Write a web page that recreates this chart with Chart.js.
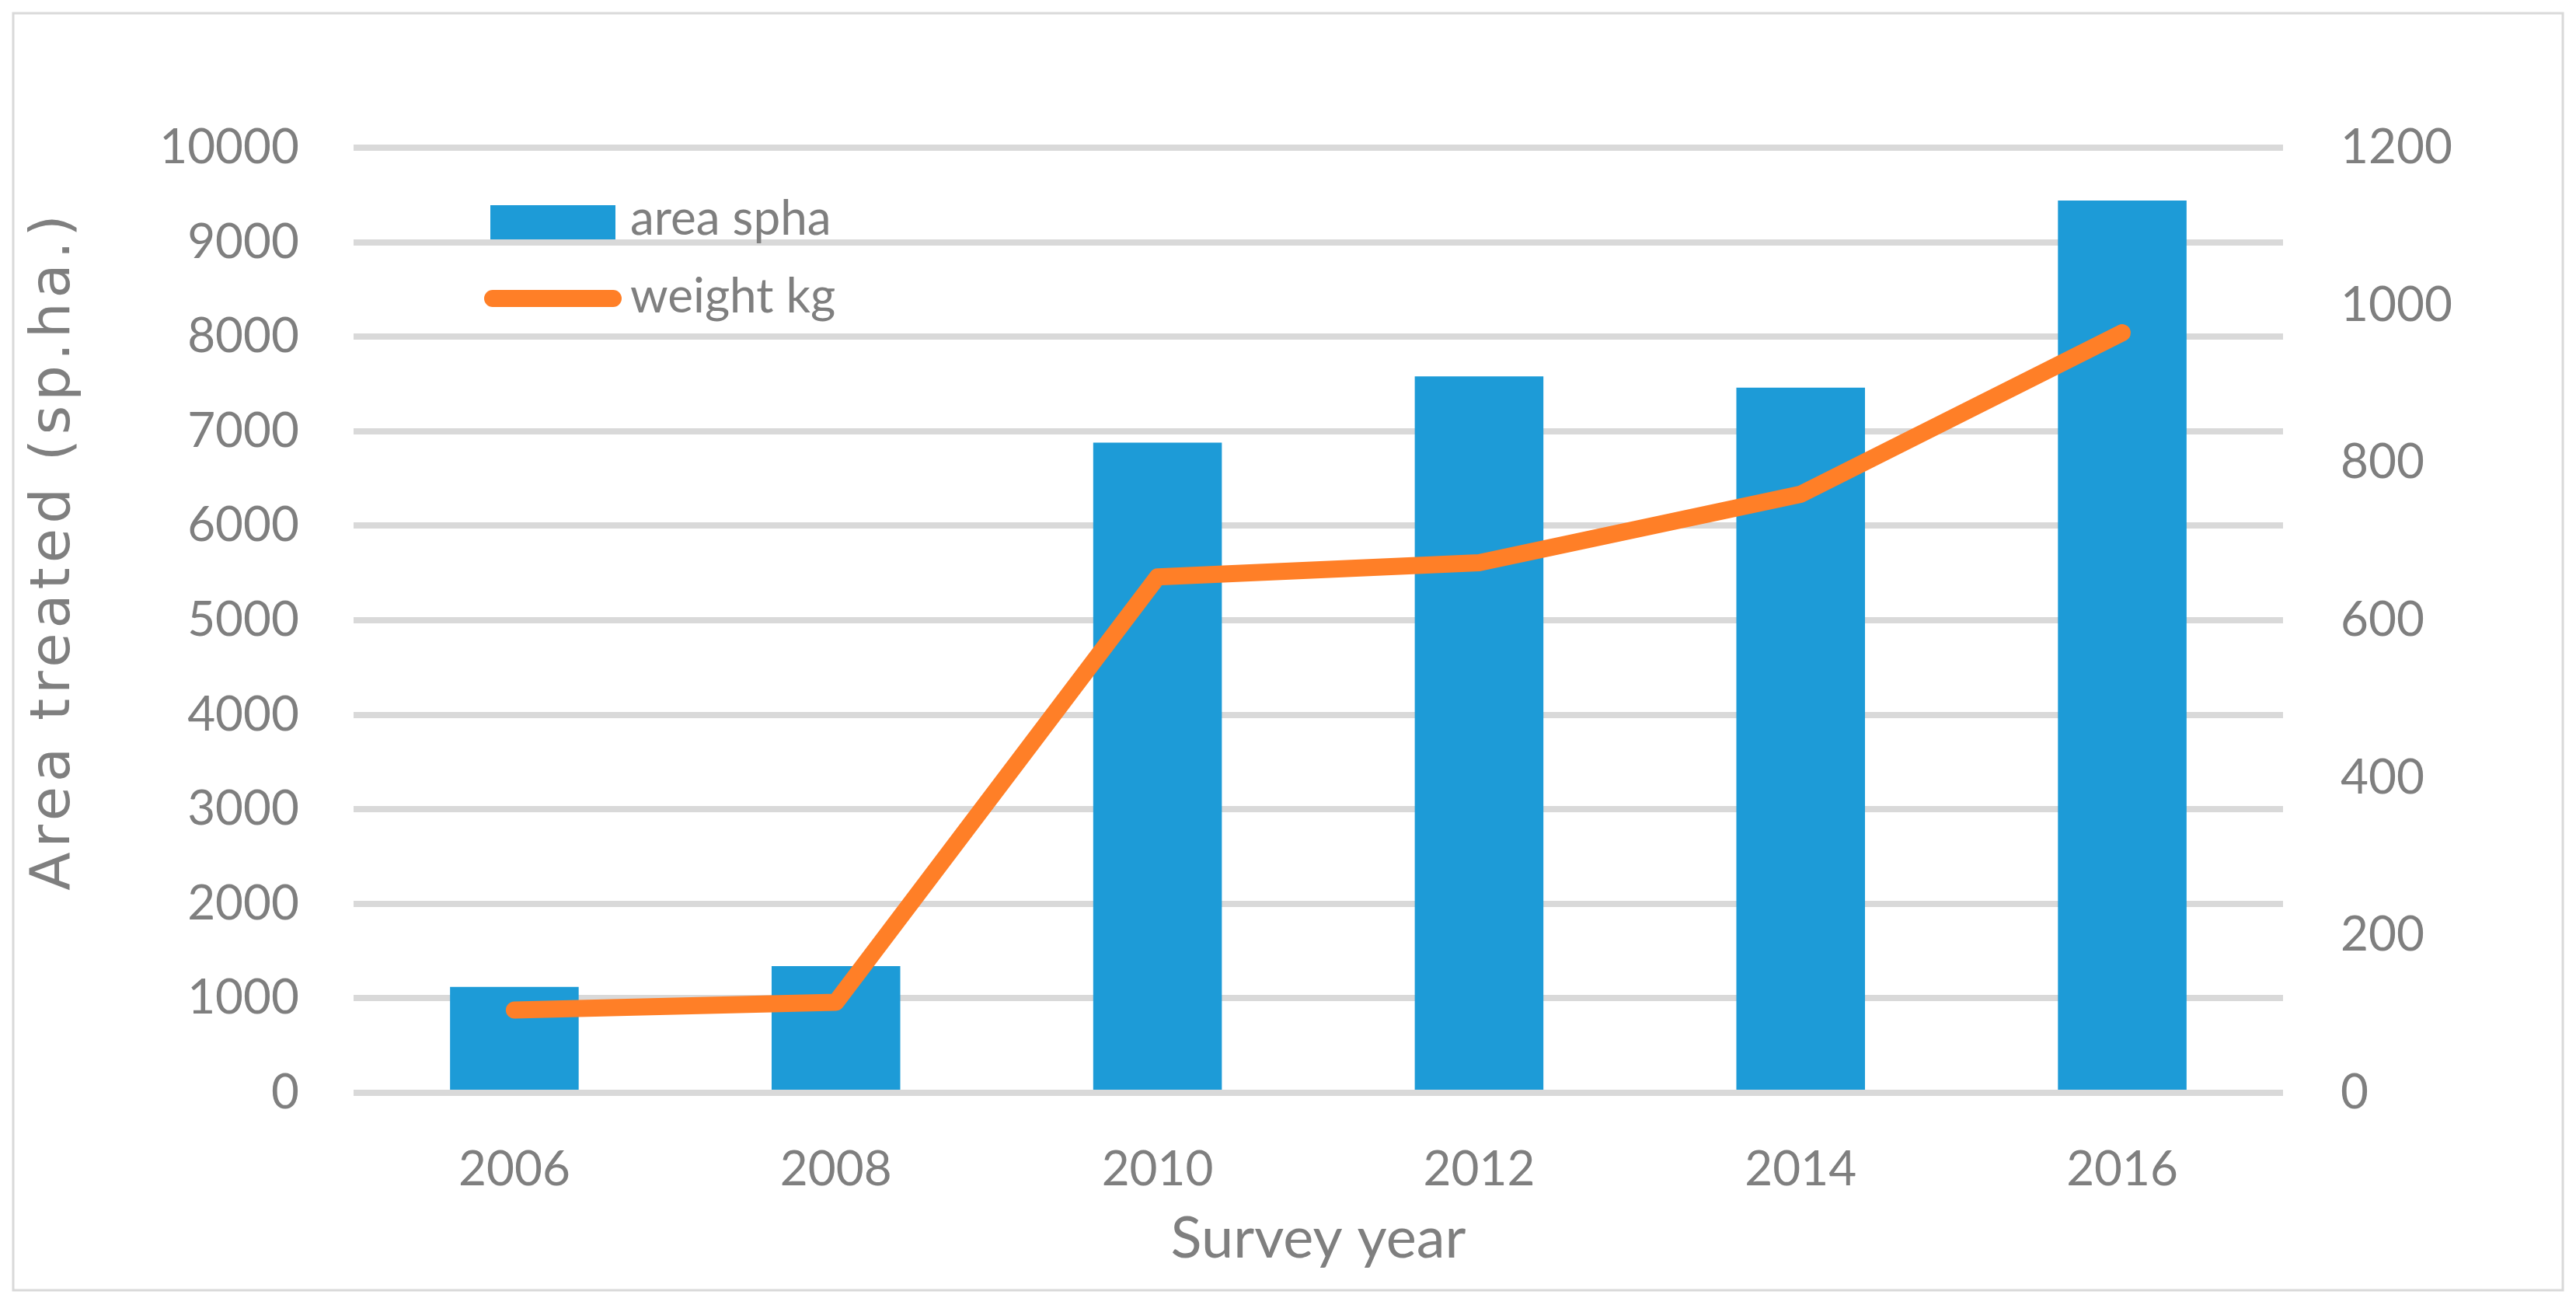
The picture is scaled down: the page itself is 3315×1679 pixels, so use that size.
<!DOCTYPE html>
<html>
<head>
<meta charset="utf-8">
<script src="https://cdn.jsdelivr.net/npm/chart.js@4.4.0/dist/chart.umd.min.js"></script>
<style>
  body { margin: 0; background: #fff; }
  canvas { display: block; }
</style>
</head>
<body>
<canvas id="surveyChart" width="3315" height="1679"></canvas>
<script>
const years = ["2006", "2008", "2010", "2012", "2014", "2016"];
const areaSpha = [1120, 1340, 6880, 7580, 7460, 9440];
const weightKg = [105, 115, 655, 673, 760, 965];

const grey = "#7f7f7f";
const blue = "#1d9bd7";
const orange = "#ff7f27";

// legend, y title and frame drawn by hand, Excel style
const extras = {
  id: "extras",
  afterDraw(chart) {
    const c = chart.ctx;
    const ds = chart.data.datasets;
    c.save();
    c.fillStyle = ds[0].backgroundColor;
    c.fillRect(631, 264, 161, 44);
    c.strokeStyle = ds[1].borderColor;
    c.lineWidth = 22;
    c.lineCap = "round";
    c.beginPath();
    c.moveTo(634, 384);
    c.lineTo(789, 384);
    c.stroke();
    c.fillStyle = grey;
    c.font = "62px Lato";
    c.textBaseline = "middle";
    c.fillText(ds[0].label, 811, 282);
    c.fillText(ds[1].label, 811, 382);

    // vertical axis title
    c.save();
    c.translate(70, 708);
    c.rotate(-Math.PI / 2);
    c.font = "72px 'DejaVu Sans'";
    c.letterSpacing = "6px";
    c.textAlign = "center";
    c.fillText("Area treated (sp.ha.)", 0, 0);
    c.restore();

    // outer frame
    c.strokeStyle = "#d9d9d9";
    c.lineWidth = 3;
    c.strokeRect(17, 17, 3281, 1643);
    c.restore();
  }
};

const plain = v => v;

const ctx = document.getElementById("surveyChart").getContext("2d");
const chart = new Chart(ctx, {
  type: "bar",
  data: {
    labels: years,
    datasets: [
      {
        label: "area spha",
        data: areaSpha,
        backgroundColor: blue,
        categoryPercentage: 0.8,
        barPercentage: 0.5,
        yAxisID: "y",
        order: 1
      },
      {
        label: "weight kg",
        type: "line",
        data: weightKg,
        borderColor: orange,
        backgroundColor: orange,
        borderWidth: 22,
        borderCapStyle: "round",
        borderJoinStyle: "round",
        pointRadius: 0,
        tension: 0,
        yAxisID: "y1",
        order: 0
      }
    ]
  },
  options: {
    responsive: false,
    devicePixelRatio: 1,
    animation: false,
    layout: { padding: { top: 190, bottom: 0, left: 0, right: 0 } },
    plugins: {
      legend: { display: false },
      tooltip: { enabled: false }
    },
    scales: {
      x: {
        grid: { display: false },
        border: { display: false },
        ticks: { color: grey, font: { family: "Lato", size: 62 }, padding: 54 },
        title: {
          display: true,
          text: "Survey year",
          color: grey,
          font: { family: "Lato", size: 74 },
          padding: { top: 0, bottom: 40 }
        },
        afterFit: s => { s.height = 273; }
      },
      y: {
        position: "left",
        min: 0,
        max: 10000,
        ticks: { stepSize: 1000, callback: plain, color: grey, font: { family: "Lato", size: 62 }, padding: 70 },
        grid: { color: "#d9d9d9", lineWidth: 8, drawTicks: false },
        border: { display: false },
        afterFit: s => { s.width = 455; }
      },
      y1: {
        position: "right",
        min: 0,
        max: 1200,
        ticks: { stepSize: 200, callback: plain, color: grey, font: { family: "Lato", size: 62 }, padding: 74 },
        grid: { display: false, drawTicks: false },
        border: { display: false },
        afterFit: s => { s.width = 377; }
      }
    }
  },
  plugins: [extras]
});
</script>
</body>
</html>
